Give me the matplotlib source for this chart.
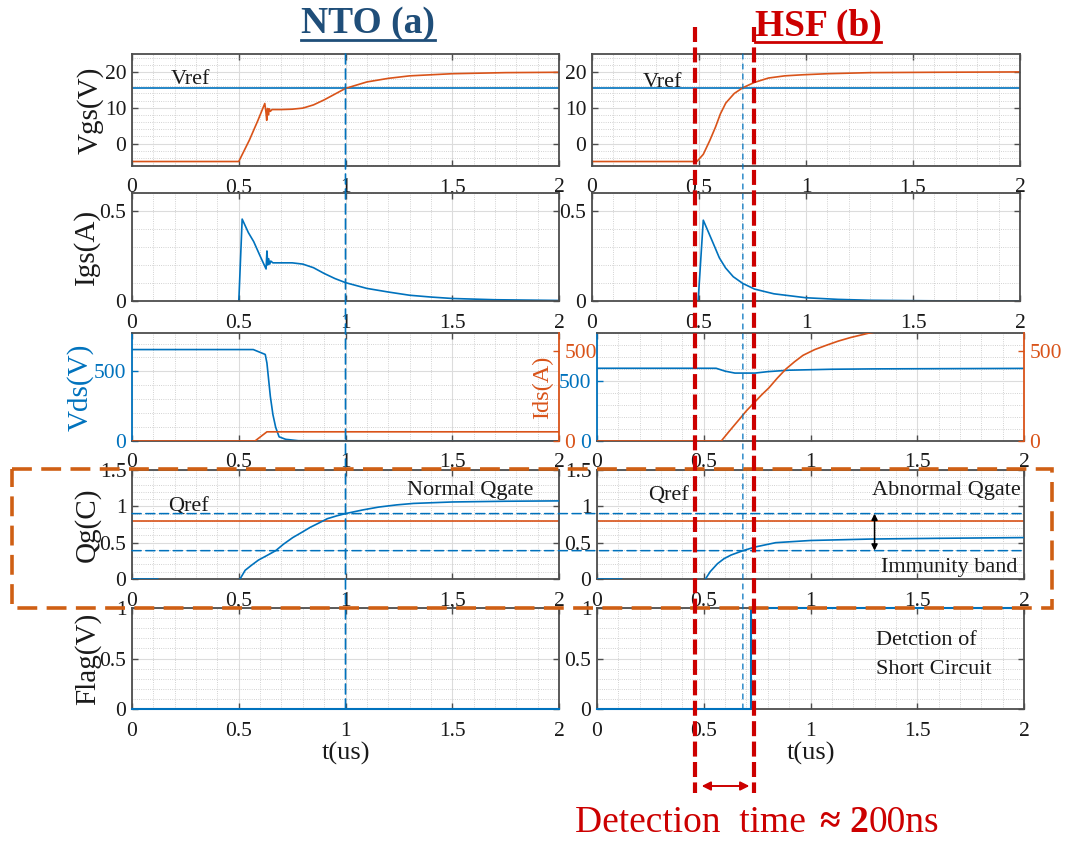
import matplotlib.pyplot as plt
import matplotlib.transforms as mtransforms
from matplotlib.offsetbox import AnnotationBbox, HPacker, TextArea
from matplotlib.patches import ConnectionPatch, Rectangle
from matplotlib.ticker import FixedLocator, FuncFormatter, MultipleLocator

plt.rcParams["font.family"] = ["Liberation Serif", "DejaVu Serif"]

BLUE = "#0072BD"
ORANGE = "#D95319"
FRAME = "#4d4d4d"
RED = "#CC0000"
BOX = "#CF5F14"
NAVY = "#1F4E79"
W, H = 1065, 841

# ---------------- NTO (a): normal turn-on ----------------
nto_vgs_t = [0, 0.5, 0.55, 0.59, 0.622, 0.627, 0.631, 0.635, 0.639, 0.643, 0.648,
             0.656, 0.70, 0.75, 0.80, 0.85, 0.90, 0.95, 1.0, 1.1, 1.2, 1.3, 1.5, 1.75, 2.0]
nto_vgs = [-5, -5, 1.0, 6.5, 11.2, 9.0, 6.5, 9.8, 8.0, 9.7, 9.0,
           9.5, 9.5, 9.6, 9.9, 10.8, 12.2, 13.8, 15.4, 17.2, 18.2, 18.9, 19.5, 19.8, 19.9]

nto_igs_t = [0.5, 0.501, 0.516, 0.545, 0.57, 0.60, 0.628, 0.632, 0.636, 0.64, 0.645,
             0.65, 0.66, 0.75, 0.80, 0.85, 0.90, 0.95, 1.0, 1.1, 1.2, 1.3, 1.4, 1.5, 1.7, 2.0]
nto_igs = [0, 0.02, 0.455, 0.38, 0.33, 0.25, 0.178, 0.278, 0.20, 0.235, 0.205,
           0.222, 0.212, 0.212, 0.205, 0.185, 0.153, 0.125, 0.102, 0.07, 0.05, 0.032,
           0.022, 0.014, 0.007, 0.003]

nto_vds_t = [0, 0.568, 0.624, 0.632, 0.64, 0.648, 0.66, 0.673, 0.689, 0.72, 0.78, 2.0]
nto_vds = [657, 657, 622, 560, 440, 320, 190, 98, 30, 12, 2, 0]

nto_ids_t = [0, 0.576, 0.632, 2.0]
nto_ids = [0, 0, 51, 51]

nto_qg_t = [0, 0.12, None, 0.506, 0.53, 0.56, 0.592, 0.63, 0.673, 0.71, 0.753, 0.80,
            0.834, 0.875, 0.915, 0.96, 1.0, 1.08, 1.156, 1.24, 1.318, 1.5, 1.75, 2.0]
nto_qg = [0, 0, None, 0, 0.12, 0.19, 0.26, 0.32, 0.39, 0.48, 0.57, 0.65,
          0.71, 0.77, 0.83, 0.87, 0.90, 0.95, 0.99, 1.02, 1.04, 1.06, 1.07, 1.075]

nto_flag_t = [0, 2.0]
nto_flag = [0, 0]

# ---------------- HSF (b): hard-switching fault ----------------
hsf_vgs_t = [0, 0.49, 0.52, 0.55, 0.577, 0.60, 0.625, 0.65, 0.665, 0.705, 0.76,
             0.825, 0.9, 0.984, 1.1, 1.3, 1.6, 2.0]
hsf_vgs = [-5, -5, -3, 0.8, 4.6, 8.3, 11.3, 13.0, 14.0, 15.6, 17.1,
           18.3, 18.9, 19.2, 19.5, 19.8, 19.9, 20.0]

hsf_igs_t = [0.496, 0.497, 0.52, 0.545, 0.568, 0.595, 0.624, 0.66, 0.704, 0.76,
             0.85, 1.0, 1.15, 1.3, 1.6, 2.0]
hsf_igs = [0, 0.02, 0.449, 0.38, 0.316, 0.24, 0.184, 0.135, 0.098, 0.066,
           0.04, 0.018, 0.009, 0.004, 0.001, 0]

hsf_vds_t = [0, 0.558, 0.60, 0.646, 0.74, 0.80, 0.90, 1.1, 1.3, 2.0]
hsf_vds = [606, 606, 582, 566, 566, 578, 590, 598, 601, 605]

hsf_ids_t = [0, 0.582, 0.62, 0.662, 0.70, 0.734, 0.77, 0.805, 0.845, 0.885, 0.925,
             0.965, 1.02, 1.077, 1.13, 1.188, 1.276, 1.4, 1.6, 2.0]
hsf_ids = [0, 0, 55, 114, 168, 210, 255, 295, 350, 400, 440,
           476, 508, 533, 555, 575, 600, 625, 655, 685]

hsf_qg_t = [0, 0.115, None, 0.508, 0.53, 0.564, 0.595, 0.628, 0.684, 0.74, 0.837,
            1.0, 1.285, 1.6, 2.0]
hsf_qg = [0, 0, None, 0, 0.1, 0.21, 0.28, 0.33, 0.39, 0.44, 0.50,
          0.53, 0.55, 0.56, 0.57]

hsf_flag_t = [0, 0.72, 0.72, 2.0]
hsf_flag = [0, 0, 1, 1]

# thresholds and markers
v_ref = 15.6
q_ref = 0.80
q_band = (0.39, 0.90)
t_mark_nto = 1.0
t_mark_hsf = 0.705
detect_window = (0.48, 0.755)
t_ticks = [0, 0.5, 1, 1.5, 2]

# panel frames in pixels: (left, right) columns, (top, bottom) rows
LEFT_COL = (132, 559)
RIGHT_TOP = (592, 1020)
RIGHT_LOW = (597, 1024)
ROWS = {"vgs": (54, 166), "igs": (193, 301), "vds": (333, 441),
        "qg": (470, 579), "flag": (608, 709)}

fig = plt.figure(figsize=(W / 100, H / 100), dpi=100)


def make_panel(cols, row):
    x0, x1 = cols
    y0, y1 = ROWS[row]
    return fig.add_axes([x0 / W, 1 - y1 / H, (x1 - x0) / W, (y1 - y0) / H])


def style(ax, ylim, yticks, yminor, comma=False):
    ax.set_xlim(0, 2)
    ax.set_ylim(*ylim)
    ax.xaxis.set_major_locator(FixedLocator(t_ticks))
    ax.xaxis.set_minor_locator(MultipleLocator(0.1))
    ax.yaxis.set_major_locator(FixedLocator(yticks))
    ax.yaxis.set_minor_locator(MultipleLocator(yminor))
    sep = "," if comma else "."
    ax.xaxis.set_major_formatter(FuncFormatter(lambda v, _: f"{v:g}".replace(".", sep)))
    ax.yaxis.set_major_formatter(FuncFormatter(lambda v, _: f"{v:g}"))
    ax.set_axisbelow(True)
    ax.grid(which="major", color="#dcdcdc", lw=0.8)
    ax.grid(which="minor", color="#c4c4c4", lw=0.6, ls=":")
    ax.tick_params(which="both", direction="in", top=True, right=True,
                   colors=FRAME, labelcolor="#1a1a1a", labelsize=15.5)
    ax.tick_params(which="major", length=4, width=1)
    ax.tick_params(which="minor", length=0)
    ax.tick_params(axis="x", pad=9)
    ax.tick_params(axis="y", pad=4)
    for s in ax.spines.values():
        s.set_color(FRAME)
        s.set_linewidth(1.3)


def ylabel(ax, text, x=-0.103, color="#1a1a1a"):
    ax.set_ylabel(text, fontsize=21, color=color)
    ax.yaxis.set_label_coords(x, 0.5)
    ax.yaxis.label.set_verticalalignment("center")


def xlabel(ax):
    ax.set_xlabel("t(us)", fontsize=19, color="#1a1a1a")
    ax.xaxis.set_label_coords(0.5, -0.44)
    ax.xaxis.label.set_verticalalignment("center")


axes = {}
for side in ("a", "b"):
    for row in ROWS:
        if side == "a":
            cols = LEFT_COL
        else:
            cols = RIGHT_TOP if row in ("vgs", "igs") else RIGHT_LOW
        axes[side, row] = make_panel(cols, row)

LW = 1.2
ANN = dict(fontsize=16, color="#1a1a1a")

for side, d in (("a", dict(vgs=(nto_vgs_t, nto_vgs), igs=(nto_igs_t, nto_igs),
                           vds=(nto_vds_t, nto_vds), ids=(nto_ids_t, nto_ids),
                           qg=(nto_qg_t, nto_qg), flag=(nto_flag_t, nto_flag),
                           vds_top=776)),
                ("b", dict(vgs=(hsf_vgs_t, hsf_vgs), igs=(hsf_igs_t, hsf_igs),
                           vds=(hsf_vds_t, hsf_vds), ids=(hsf_ids_t, hsf_ids),
                           qg=(hsf_qg_t, hsf_qg), flag=(hsf_flag_t, hsf_flag),
                           vds_top=900))):
    # gate-source voltage
    ax = axes[side, "vgs"]
    style(ax, (-6.25, 25), [0, 10, 20], 2, comma=True)
    ax.axhline(v_ref, color=BLUE, lw=LW)
    ax.plot(*d["vgs"], color=ORANGE, lw=LW)

    # gate current
    ax = axes[side, "igs"]
    style(ax, (0, 0.6), [0, 0.5], 0.1)
    ax.plot(*d["igs"], color=BLUE, lw=LW)

    # drain-source voltage and drain current (twin axis)
    ax = axes[side, "vds"]
    style(ax, (0, d["vds_top"]), [0, 500], 100)
    ax.tick_params(axis="y", which="both", right=False, colors=BLUE, labelcolor=BLUE)
    ax.spines["left"].set_color(BLUE)
    ax.spines["right"].set_visible(False)
    ax.plot(*d["vds"], color=BLUE, lw=LW)
    tw = ax.twinx()
    tw.set_ylim(0, 600)
    tw.yaxis.set_major_locator(FixedLocator([0, 500]))
    tw.tick_params(axis="y", direction="in", length=4, width=1, colors=ORANGE,
                   labelcolor=ORANGE, labelsize=15.5, pad=4)
    for k in ("left", "top", "bottom"):
        tw.spines[k].set_visible(False)
    tw.spines["right"].set_color(ORANGE)
    tw.spines["right"].set_linewidth(1.3)
    tw.plot(*d["ids"], color=ORANGE, lw=LW)
    axes[side, "ids"] = tw

    # gate charge
    ax = axes[side, "qg"]
    style(ax, (0, 1.5), [0, 0.5, 1, 1.5], 0.1, comma=(side == "a"))
    ax.axhline(q_ref, color=ORANGE, lw=LW)
    qt = [float("nan") if v is None else v for v in d["qg"][0]]
    qv = [float("nan") if v is None else v for v in d["qg"][1]]
    ax.plot(qt, qv, color=BLUE, lw=LW, zorder=3)

    # short-circuit flag
    ax = axes[side, "flag"]
    style(ax, (0, 1), [0, 0.5, 1], 0.1)
    ax.plot(*d["flag"], color=BLUE, lw=LW + 0.3, zorder=3, clip_on=False)
    xlabel(ax)

# axis labels on the left column
ylabel(axes["a", "vgs"], "Vgs(V)", x=-0.098)
ylabel(axes["a", "igs"], "Igs(A)", x=-0.107)
ylabel(axes["a", "vds"], "Vds(V)", x=-0.122, color=BLUE)
ylabel(axes["a", "qg"], "Qg(C)", x=-0.105)
ylabel(axes["a", "flag"], "Flag(V)", x=-0.103)
tw = axes["a", "ids"]
tw.set_ylabel("Ids(A)", fontsize=17.5, color=ORANGE)
tw.yaxis.set_label_coords(0.962, 0.5)
tw.yaxis.label.set_verticalalignment("center")

# in-panel annotations
axes["a", "vgs"].text(0.183, 16.7, "Vref", ha="left", va="baseline", **ANN)
axes["b", "vgs"].text(0.236, 15.9, "Vref", ha="left", va="baseline", **ANN)
axes["a", "qg"].text(0.167, 0.93, "Qref", ha="left", va="baseline", **ANN)
axes["b", "qg"].text(0.24, 1.09, "Qref", ha="left", va="baseline", **ANN)
axes["a", "qg"].text(1.29, 1.16, "Normal Qgate", ha="left", va="baseline", **ANN)
axes["b", "qg"].text(1.29, 1.16, "Abnormal Qgate", ha="left", va="baseline", **ANN)
axes["b", "qg"].text(1.33, 0.10, "Immunity band", ha="left", va="baseline", **ANN)
axes["b", "flag"].text(1.305, 0.63, "Detction of", ha="left", va="baseline", **ANN)
axes["b", "flag"].text(1.305, 0.345, "Short Circuit", ha="left", va="baseline", **ANN)
axes["b", "qg"].annotate("", xy=(1.3, q_band[0]), xytext=(1.3, q_band[1]),
                         arrowprops=dict(arrowstyle="<|-|>", color="black", lw=1.1,
                                         mutation_scale=9, shrinkA=0, shrinkB=0))

# immunity band limits running across both Qg panels
for level in q_band:
    fig.add_artist(ConnectionPatch(
        xyA=(0, level), coordsA=axes["a", "qg"].transData,
        xyB=(2, level), coordsB=axes["b", "qg"].transData,
        color=BLUE, lw=1.1, ls=(0, (6, 3))))

# time markers running down each column
fig.add_artist(ConnectionPatch(
    xyA=(t_mark_nto, 1), coordsA=mtransforms.blended_transform_factory(
        axes["a", "vgs"].transData, axes["a", "vgs"].transAxes),
    xyB=(t_mark_nto, 0), coordsB=mtransforms.blended_transform_factory(
        axes["a", "vgs"].transData, axes["a", "flag"].transAxes),
    color=BLUE, lw=1.2, ls=(0, (6, 3))))
fig.add_artist(ConnectionPatch(
    xyA=(t_mark_hsf, 1), coordsA=mtransforms.blended_transform_factory(
        axes["b", "vgs"].transData, axes["b", "vgs"].transAxes),
    xyB=(t_mark_hsf, 0), coordsB=mtransforms.blended_transform_factory(
        axes["b", "vgs"].transData, axes["b", "flag"].transAxes),
    color=BLUE, lw=0.9, ls=(0, (4, 4))))

# overlay in figure pixels for the callouts
ov = fig.add_axes([0, 0, 1, 1], zorder=20)
ov.set_xlim(0, W)
ov.set_ylim(H, 0)
ov.axis("off")

ov.add_patch(Rectangle((12, 469), 1040, 139, fill=False, ec=BOX, lw=2.6,
                       ls=(0, (5.5, 2.6))))

blend = mtransforms.blended_transform_factory(axes["b", "vgs"].transData, ov.transData)
for t in detect_window:
    ov.plot([t, t], [27, 793], transform=blend, color=RED, lw=3, ls=(0, (3.6, 1.3)))
ov.annotate("", xy=(detect_window[1], 786), xytext=(detect_window[0], 786),
            xycoords=blend, textcoords=blend,
            arrowprops=dict(arrowstyle="<|-|>", color=RED, lw=1.4,
                            mutation_scale=13, shrinkA=5, shrinkB=3))

nto = ov.text(368, 33, "NTO (a)", ha="center", va="baseline", fontsize=27,
              fontweight="bold", color=NAVY)
hsf = ov.text(818, 36, "HSF (b)", ha="center", va="baseline", fontsize=27,
              fontweight="bold", color=RED)
fig.canvas.draw()
for txt, y in ((nto, 40), (hsf, 42)):
    bb = txt.get_window_extent()
    ov.plot([bb.x0, bb.x1], [y, y], color=txt.get_color(), lw=2)

red_txt = dict(color=RED, fontsize=27)
caption = HPacker(children=[
    HPacker(children=[TextArea("Detection  time", textprops=red_txt),
                      TextArea("\u2248 2", textprops=dict(red_txt, fontweight="bold"))],
            sep=10, pad=0),
    TextArea("00ns", textprops=red_txt)], sep=0, pad=0)
ov.add_artist(AnnotationBbox(caption, (757, 822), xycoords="data", frameon=False,
                             box_alignment=(0.5, 0.5), pad=0))

fig.savefig("out.png", dpi=100)
